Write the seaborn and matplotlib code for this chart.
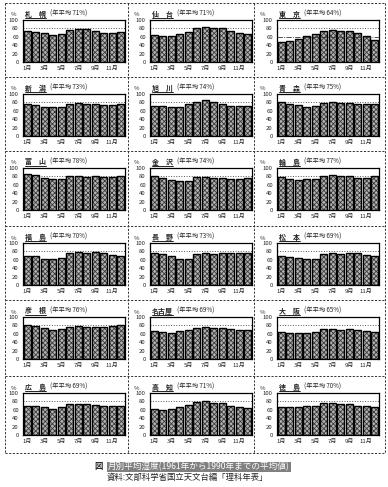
import matplotlib
matplotlib.use('Agg')
import matplotlib.pyplot as plt
from matplotlib.lines import Line2D
import seaborn as sns

# Monthly mean relative humidity (%), 1961-1990
months = ['1月', '2月', '3月', '4月', '5月', '6月', '7月', '8月', '9月', '10月', '11月', '12月']
cities = ['札　幌', '仙　台', '東　京', '新　潟', '旭　川', '青　森',
          '富　山', '金　沢', '輪　島', '福　島', '長　野', '松　本',
          '彦　根', '名古屋', '大　阪', '広　島', '高　知', '徳　島']
annual = [71, 71, 64, 73, 74, 75, 78, 74, 77, 70, 73, 69, 76, 69, 65, 69, 71, 70]

sapporo = [74, 71, 68, 65, 67, 76, 79, 79, 74, 69, 69, 72]
sendai = [65, 62, 63, 66, 71, 80, 84, 81, 81, 75, 68, 66]
tokyo = [47, 50, 55, 63, 66, 74, 76, 74, 73, 68, 62, 53]
niigata = [75, 73, 70, 70, 70, 77, 79, 75, 75, 73, 74, 76]
asahikawa = [72, 71, 68, 70, 75, 80, 85, 81, 77, 72, 71, 72]
aomori = [80, 77, 74, 68, 72, 79, 80, 79, 79, 77, 77, 77]
toyama = [85, 83, 76, 74, 75, 80, 82, 79, 80, 79, 79, 81]
kanazawa = [80, 77, 72, 69, 69, 78, 78, 76, 77, 74, 74, 77]
wajima = [78, 75, 72, 74, 74, 81, 83, 81, 80, 76, 77, 80]
fukushima = [70, 68, 62, 61, 65, 76, 79, 77, 79, 75, 72, 70]
nagano = [77, 74, 69, 63, 63, 73, 77, 73, 76, 76, 76, 77]
matsumoto = [70, 67, 64, 61, 61, 73, 75, 73, 77, 75, 72, 69]
hikone = [80, 78, 73, 69, 71, 76, 78, 76, 77, 77, 78, 81]
nagoya = [67, 64, 61, 66, 69, 75, 77, 74, 74, 71, 68, 68]
osaka = [64, 63, 62, 63, 64, 72, 72, 70, 72, 70, 67, 64]
hiroshima = [70, 68, 66, 63, 66, 73, 75, 73, 71, 69, 69, 69]
kochi = [63, 60, 63, 67, 71, 78, 80, 76, 77, 70, 67, 64]
tokushima = [66, 66, 67, 70, 70, 76, 76, 74, 74, 70, 70, 66]

series = [sapporo, sendai, tokyo, niigata, asahikawa, aomori,
          toyama, kanazawa, wajima, fukushima, nagano, matsumoto,
          hikone, nagoya, osaka, hiroshima, kochi, tokushima]

sns.set_style('white')
plt.rcParams['font.family'] = ['Noto Sans CJK JP', 'DejaVu Sans']
plt.rcParams['hatch.linewidth'] = 0.6

W, H = 388, 487
fig = plt.figure(figsize=(W / 100, H / 100), dpi=100)
fig.patch.set_facecolor('white')

col_edges = [5, 128, 254, 385]
row_edges = [3, 77, 151, 226, 300, 376, 453]
ax_left = [23, 150, 277]
ax_w = 102
ax_h = 42


def px_line(x0, y0, x1, y1):
    fig.add_artist(Line2D([x0 / W, x1 / W], [1 - y0 / H, 1 - y1 / H],
                          transform=fig.transFigure, color='#333333',
                          lw=0.7, ls=(0, (2.2, 1.6))))


# dashed panel borders
for x in col_edges:
    px_line(x, row_edges[0], x, row_edges[-1])
for y in row_edges:
    px_line(col_edges[0], y, col_edges[-1], y)

titles = []
for i, vals in enumerate(series):
    r, c = divmod(i, 3)
    top = row_edges[r] + 17
    ax = fig.add_axes([ax_left[c] / W, 1 - (top + ax_h) / H, ax_w / W, ax_h / H])

    # hatched fill
    sns.barplot(x=months, y=vals, ax=ax, color='#b4b4b4', width=0.86,
                edgecolor='#3a3a3a', linewidth=0, zorder=2)
    for p in ax.patches:
        p.set_hatch('xxxxxxx')
    # black outlines
    sns.barplot(x=months, y=vals, ax=ax, fill=False, width=0.86,
                edgecolor='black', linewidth=1.0, zorder=3)

    ax.axhline(80, color='#555555', lw=0.7, ls=':', zorder=1)
    if i == 2:
        ax.axhline(60, color='#333333', lw=0.6, ls='-.', zorder=4)

    ax.set_ylim(0, 100)
    ax.set_xlim(-0.5, 11.5)
    ax.set_yticks(range(0, 101, 20))
    ax.set_xticks(range(0, 12, 2))
    ax.set_xticklabels(months[::2])
    ax.set_xlabel('')
    ax.set_ylabel('')
    ax.tick_params(axis='both', labelsize=4.3, length=0, pad=3)
    for s in ax.spines.values():
        s.set_visible(True)
        s.set_color('black')
        s.set_linewidth(0.9)

    # unit and title
    px = col_edges[c] + 6
    fig.text(px / W, 1 - (row_edges[r] + 12) / H, '%', fontsize=4.3,
             ha='left', va='center')
    t = fig.text((ax_left[c] + 2) / W, 1 - (row_edges[r] + 11) / H, cities[i],
                 fontsize=5, fontweight='bold', ha='left', va='center')
    titles.append((t, r, c, annual[i]))

fig.canvas.draw()
renderer = fig.canvas.get_renderer()
for t, r, c, avg in titles:
    bb = t.get_window_extent(renderer)
    x0, x1 = bb.x0 / W, bb.x1 / W
    yb = (bb.y0 - 0.5) / H
    fig.add_artist(Line2D([x0, x1], [yb, yb], transform=fig.transFigure,
                          color='black', lw=0.6))
    fig.text(x1 + 4 / W, 1 - (row_edges[r] + 11) / H, f'(年平均 {avg}%)',
             fontsize=4.5, ha='left', va='center')

# caption
fig.text(94 / W, 1 - 467 / H, '図', fontsize=6, fontweight='bold',
         ha='left', va='center')
fig.text(108 / W, 1 - 467 / H, '月別平均湿度(1961年から1990年までの平均値)',
         fontsize=6.2, color='white', ha='left', va='center',
         bbox=dict(facecolor='#808080', edgecolor='none', pad=0.6))
fig.text(187 / W, 1 - 477 / H, '資料:文部科学省国立天文台編「理科年表」',
         fontsize=6, ha='center', va='center')

fig.savefig('out.png', dpi=100)
